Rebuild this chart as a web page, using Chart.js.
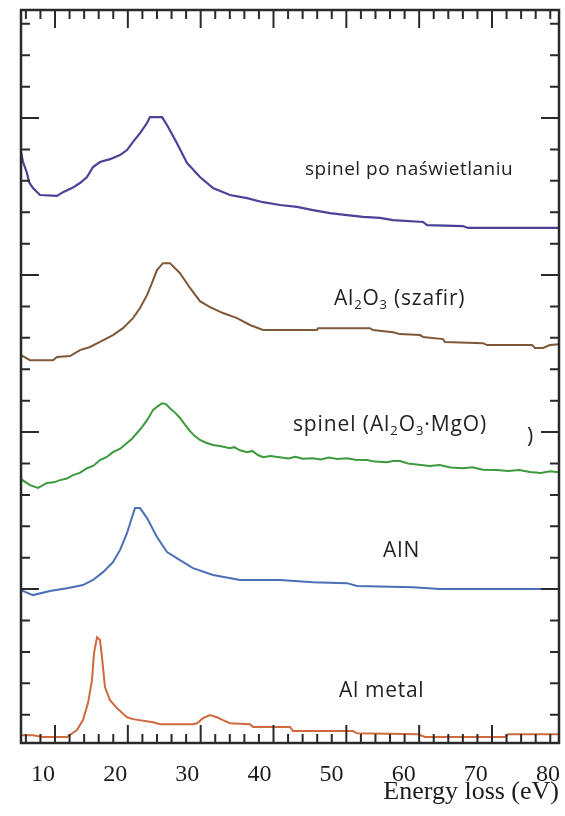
<!DOCTYPE html>
<html><head><meta charset="utf-8">
<script src="https://cdn.jsdelivr.net/npm/chart.js@4"></script>
<style>html,body{margin:0;padding:0;background:#fff}</style>
</head><body>
<canvas id="c" width="565" height="816"></canvas>
<script>
// ---- data (x = energy loss in eV, y = offset intensity, arbitrary units) ----
const xTickValues = [10, 20, 30, 40, 50, 60, 70, 80];
const xAxisTitle = 'Energy loss (eV)';
const frameTickX = [6,8,10,12,14,16,18,20,22,24,26,28,30,32,34,36,38,40,42,44,46,48,50,52,54,56,58,60,62,64,66,68,70,72,74,76,78];
const frameTickY = [1,2,3,4,5,6,7,8,9,10,11,12,13,14,15,16,17,18,19,20,21,22,23];

const spinelIrradiated = [[6.95,18.92],[7.23,18.60],[7.78,18.25],[8.06,17.96],[8.61,17.77],[9.58,17.55],[11.94,17.52],[12.77,17.64],[14.02,17.77],[15.13,17.93],[16.10,18.12],[16.93,18.44],[17.90,18.60],[19.29,18.69],[20.67,18.82],[21.64,18.98],[22.48,19.24],[23.45,19.52],[24.42,19.84],[24.83,20.03],[26.50,20.03],[27.19,19.78],[28.57,19.20],[29.96,18.57],[31.76,18.12],[33.57,17.77],[35.92,17.55],[38.28,17.45],[40.50,17.32],[42.85,17.23],[45.21,17.17],[47.43,17.07],[49.78,16.97],[52.14,16.91],[54.36,16.85],[56.71,16.82],[58.52,16.75],[62.68,16.69],[63.23,16.59],[68.22,16.56],[68.91,16.50],[81.53,16.50]];

const sapphire = [[6.95,12.45],[8.20,12.29],[11.39,12.29],[11.94,12.39],[13.74,12.42],[15.13,12.61],[16.51,12.71],[17.90,12.87],[19.70,13.09],[21.09,13.31],[22.48,13.63],[23.45,13.95],[24.42,14.36],[25.11,14.75],[25.80,15.16],[26.63,15.38],[27.60,15.38],[28.99,15.06],[30.38,14.59],[31.76,14.17],[33.15,13.98],[34.95,13.79],[36.89,13.63],[38.69,13.41],[40.50,13.25],[47.98,13.25],[48.12,13.31],[55.33,13.31],[55.74,13.25],[58.52,13.18],[59.49,13.12],[62.26,13.09],[62.68,13.03],[65.45,12.96],[65.72,12.87],[70.99,12.83],[71.55,12.77],[77.79,12.77],[78.20,12.68],[79.31,12.68],[80.28,12.77],[81.53,12.80]];

const spinel = [[6.95,8.50],[8.20,8.31],[9.31,8.22],[10.55,8.38],[11.5,8.40],[12.36,8.47],[13.3,8.52],[14.16,8.63],[15.1,8.70],[16.10,8.85],[17.0,8.93],[17.90,9.11],[18.8,9.20],[19.70,9.36],[20.7,9.47],[21.64,9.65],[22.3,9.78],[23.03,9.97],[23.7,10.15],[24.42,10.38],[25.25,10.70],[25.9,10.82],[26.50,10.92],[27.0,10.90],[27.60,10.76],[28.3,10.62],[28.99,10.45],[29.7,10.23],[30.38,10.03],[31.0,9.88],[31.76,9.75],[32.6,9.66],[33.57,9.59],[34.7,9.55],[35.9,9.49],[36.5,9.52],[37.3,9.42],[38.3,9.36],[39.0,9.40],[39.8,9.27],[40.5,9.20],[41.5,9.24],[42.8,9.20],[44.0,9.16],[45.0,9.21],[46.0,9.15],[47.4,9.17],[48.5,9.13],[49.6,9.19],[50.8,9.14],[52.1,9.17],[53.3,9.12],[54.9,9.11],[56.0,9.06],[57.7,9.04],[58.5,9.08],[59.5,9.08],[60.6,9.00],[61.8,8.97],[63.6,8.92],[65.0,8.95],[66.5,8.87],[68.2,8.85],[69.5,8.88],[71.0,8.80],[72.9,8.79],[74.5,8.76],[76.0,8.79],[77.5,8.73],[79.0,8.70],[80.3,8.75],[81.53,8.72]];

const aluminiumNitride = [[6.95,4.97],[8.61,4.81],[10.97,4.94],[13.33,5.03],[15.54,5.13],[16.93,5.29],[18.32,5.54],[19.70,5.86],[20.67,6.24],[21.64,6.78],[22.34,7.29],[22.75,7.58],[23.45,7.58],[24.42,7.26],[25.80,6.66],[27.19,6.18],[28.99,5.92],[30.79,5.67],[33.57,5.45],[37.31,5.29],[42.85,5.29],[47.43,5.22],[52.14,5.19],[53.53,5.10],[61.29,5.06],[65.03,5.00],[81.53,5.00]];

const aluminiumMetal = [[6.95,0.35],[8.61,0.35],[10.0,0.29],[13.33,0.29],[14.71,0.51],[15.54,0.83],[16.24,1.37],[16.79,2.10],[17.07,2.96],[17.49,3.47],[17.90,3.38],[18.18,2.83],[18.59,1.88],[19.29,1.46],[20.26,1.21],[21.64,0.92],[22.48,0.86],[25.25,0.76],[26.22,0.70],[30.79,0.70],[31.35,0.73],[32.18,0.89],[33.15,0.99],[34.12,0.92],[34.95,0.83],[35.92,0.73],[38.69,0.70],[39.11,0.61],[44.24,0.61],[44.65,0.48],[52.97,0.48],[53.53,0.41],[61.98,0.38],[62.95,0.29],[74.04,0.29],[74.46,0.38],[81.53,0.38]];

// curve annotations: [text, isSubscript]
const annotations = [
  {x:46.32, y:18.18, size:19, spacing:0.5, parts:[['spinel po naświetlaniu',0]]},
  {x:50.34, y:14.04, size:21, spacing:0.8, parts:[['Al',0],['2',1],['O',0],['3',1],[' (szafir)',0]]},
  {x:44.65, y:10.03, size:21, spacing:0.9, parts:[['spinel (Al',0],['2',1],['O',0],['3',1],['·MgO)',0]]},
  {x:77.09, y:9.65,  size:21, spacing:0,   parts:[[')',0]]},
  {x:57.13, y:6.02,  size:21, spacing:1,   parts:[['AlN',0]]},
  {x:51.03, y:1.56,  size:21, spacing:0.7, parts:[['Al metal',0]]}
];

const toXY = arr => arr.map(([x, y]) => ({x, y}));
const serif = '"Liberation Serif", "DejaVu Serif", serif';
const sans = '"Open Sans", "Noto Sans", sans-serif';

const frameTicks = {
  id: 'frameTicks',
  afterDatasetsDraw(chart) {
    const {ctx, chartArea: a, scales} = chart;
    const xt = scales.xt, y = scales.y;
    ctx.save();
    ctx.strokeStyle = '#2a2a2a';
    ctx.lineWidth = 2;
    ctx.beginPath();
    frameTickX.forEach(v => {
      const px = xt.getPixelForValue(v);
      if (px < a.left + 2 || px > a.right - 2) return;
      const L = v % 10 === 0 ? 18 : 9;
      ctx.moveTo(px, a.bottom); ctx.lineTo(px, a.bottom - L);
      ctx.moveTo(px, a.top); ctx.lineTo(px, a.top + L);
    });
    frameTickY.forEach(v => {
      const py = y.getPixelForValue(v);
      if (py < a.top + 2 || py > a.bottom - 2) return;
      const L = v % 5 === 0 ? 18 : 9;
      ctx.moveTo(a.left, py); ctx.lineTo(a.left + L, py);
      ctx.moveTo(a.right, py); ctx.lineTo(a.right - L, py);
    });
    ctx.stroke();
    ctx.lineWidth = 2.5;
    ctx.strokeRect(a.left, a.top, a.right - a.left, a.bottom - a.top);
    ctx.restore();
  }
};

const curveLabels = {
  id: 'curveLabels',
  afterDatasetsDraw(chart) {
    const {ctx, scales} = chart;
    ctx.save();
    ctx.fillStyle = '#222';
    ctx.textBaseline = 'alphabetic';
    ctx.textAlign = 'left';
    annotations.forEach(an => {
      let px = scales.x.getPixelForValue(an.x);
      const py = scales.y.getPixelForValue(an.y);
      ctx.letterSpacing = an.spacing + 'px';
      an.parts.forEach(([t, sub]) => {
        const fs = sub ? an.size * 0.62 : an.size;
        ctx.font = fs + 'px ' + sans;
        ctx.fillText(t, px, py + (sub ? an.size * 0.16 : 0));
        px += ctx.measureText(t).width;
      });
    });
    ctx.restore();
  }
};

new Chart(document.getElementById('c'), {
  type: 'line',
  data: {
    datasets: [
      {label: 'spinel po naświetlaniu', data: toXY(spinelIrradiated), borderColor: '#4b4198', borderWidth: 2.2},
      {label: 'Al2O3 (szafir)', data: toXY(sapphire), borderColor: '#7f5838', borderWidth: 2},
      {label: 'spinel (Al2O3·MgO)', data: toXY(spinel), borderColor: '#3c9a3c', borderWidth: 2},
      {label: 'AlN', data: toXY(aluminiumNitride), borderColor: '#4a6fb5', borderWidth: 2},
      {label: 'Al metal', data: toXY(aluminiumMetal), borderColor: '#cf6a3c', borderWidth: 2}
    ]
  },
  options: {
    responsive: false,
    animation: false,
    devicePixelRatio: 1,
    layout: {padding: {left: 21, right: 6, top: 10, bottom: 0}},
    plugins: {legend: {display: false}, tooltip: {enabled: false}},
    elements: {point: {radius: 0}, line: {tension: 0, fill: false}},
    scales: {
      x: {
        type: 'linear', min: 6.95, max: 81.53,
        grid: {display: false, drawTicks: false},
        border: {display: false},
        afterBuildTicks: ax => { ax.ticks = xTickValues.map(v => ({value: v})); },
        afterFit: s => { s.height = 73; s.paddingLeft = 0; s.paddingRight = 0; },
        ticks: {autoSkip: false, maxRotation: 0, padding: 17, color: '#1c1c1c',
                font: {family: serif, size: 24}},
        title: {display: true, text: xAxisTitle, align: 'end', color: '#1c1c1c',
                font: {family: serif, size: 26}, padding: {top: 0, bottom: 8}}
      },
      xt: {type: 'linear', axis: 'x', display: false, min: 5.33, max: 79.2},
      y: {type: 'linear', display: false, min: 0.1, max: 23.44}
    }
  },
  plugins: [frameTicks, curveLabels]
});
</script>
</body></html>
